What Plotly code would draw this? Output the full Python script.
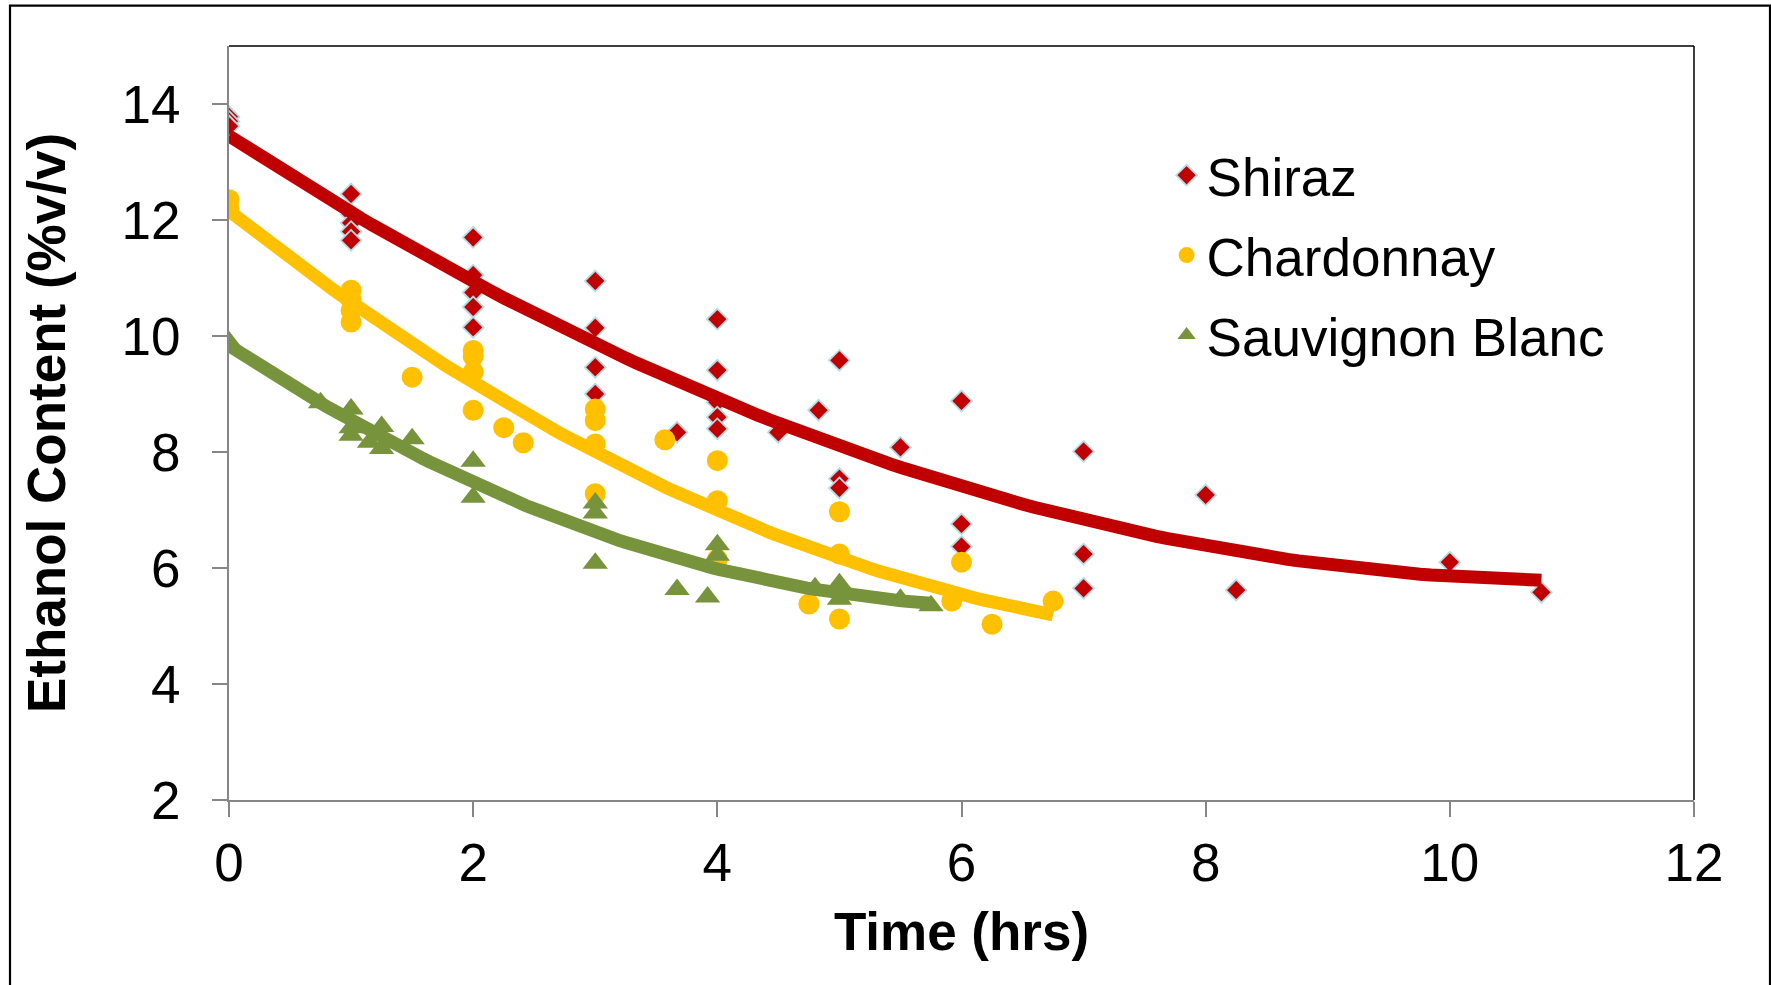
import numpy as np
import plotly.graph_objects as go

# ---- data ----
shiraz_x = [0, 0, 0, 1, 1, 1, 1, 1, 2, 2, 2, 2, 2, 3, 3, 3, 3, 3.67, 4, 4, 4, 4, 4,
            4.5, 4.83, 5, 5, 5, 5.5, 6, 6, 6, 7, 7, 7, 8, 8.25, 10, 10.75]
shiraz_y = [13.78, 13.7, 13.62, 12.45, 12.1, 11.95, 11.8, 11.65, 11.7, 11.05, 10.75, 10.5, 10.15,
            10.95, 10.14, 9.46, 9.0, 8.34, 10.29, 9.41, 8.86, 8.6, 8.4,
            8.34, 8.72, 9.58, 7.54, 7.38, 8.08, 8.88, 6.76, 6.37, 8.01, 6.24, 5.65,
            7.26, 5.62, 6.10, 5.58]

chard_x = [0, 0, 1, 1, 1, 1, 1.5, 2, 2, 2, 2, 2.25, 2.41, 3, 3, 3, 3, 3.57,
           4, 4, 4, 4.75, 5, 5, 5, 5.92, 6, 6.25, 6.75]
chard_y = [12.35, 12.2, 10.79, 10.62, 10.44, 10.24, 9.29, 9.75, 9.65, 9.38, 8.72, 8.42, 8.16,
           8.74, 8.54, 8.14, 7.28, 8.21, 7.85, 7.16, 6.15, 5.38, 6.97, 6.24, 5.12,
           5.43, 6.1, 5.03, 5.43]

sauv_x = [0, 0.75, 1, 1, 1, 1.15, 1.25, 1.25, 1.5, 2, 2, 3, 3, 3, 3.67, 3.92,
          4, 4, 4.8, 5, 5, 5.5, 5.75]
sauv_y = [9.9, 8.85, 8.74, 8.42, 8.29, 8.17, 8.44, 8.06, 8.23, 7.84, 7.22, 7.12, 6.95, 6.08,
          5.63, 5.5, 6.4, 6.22, 5.66, 5.73, 5.46, 5.46, 5.35]

series_names = ["Shiraz", "Chardonnay", "Sauvignon Blanc"]
x_ticks = [0, 2, 4, 6, 8, 10, 12]
y_ticks = [2, 4, 6, 8, 10, 12, 14]

RED = "#C00000"
YEL = "#FFC000"
GRN = "#77933C"
FONT = "Liberation Sans, Arial, sans-serif"

fig = go.Figure()

fig.add_trace(go.Scatter(
    x=shiraz_x, y=shiraz_y, mode="markers", name=series_names[0],
    legendgroup="a",
    marker=dict(symbol="diamond", size=16, color=RED,
                line=dict(color="#B4DCE4", width=1.8))))
fig.add_trace(go.Scatter(
    x=chard_x, y=chard_y, mode="markers", name=series_names[1],
    legendgroup="b",
    marker=dict(symbol="circle", size=21, color=YEL, line=dict(width=0))))
fig.add_trace(go.Scatter(
    x=sauv_x, y=sauv_y, mode="markers", name=series_names[2],
    legendgroup="c",
    marker=dict(symbol="triangle-up", size=22, color=GRN, line=dict(width=0))))

# polynomial (order 2) trendlines fitted to the data
for xs, ys, col in [(shiraz_x, shiraz_y, RED), (chard_x, chard_y, YEL), (sauv_x, sauv_y, GRN)]:
    c = np.polyfit(xs, ys, 2)
    xx = np.linspace(min(xs), max(xs), 120)
    fig.add_trace(go.Scatter(x=xx, y=np.polyval(c, xx), mode="lines",
                             line=dict(color=col, width=13), showlegend=False,
                             hoverinfo="skip"))

fig.update_layout(
    width=1771, height=985,
    margin=dict(l=229, r=77, t=46, b=185),
    paper_bgcolor="white", plot_bgcolor="white",
    font=dict(family=FONT, size=53, color="black"),
    showlegend=True,
    legend=dict(x=0.64, y=0.883, xanchor="left", yanchor="top",
                font=dict(family=FONT, size=53, color="black"),
                bgcolor="rgba(0,0,0,0)", traceorder="grouped", tracegroupgap=8,
                itemsizing="trace"),
    xaxis=dict(range=[0, 12], tickvals=x_ticks, ticktext=[str(v) for v in x_ticks],
               showgrid=False, zeroline=False, showline=True, linecolor="#868686",
               linewidth=2, ticks="outside", ticklen=15, tickwidth=1.5, tickcolor="#868686",
               tickfont=dict(family=FONT, size=53, color="black"),
               ticklabelstandoff=0, layer="below traces",
               title=dict(text="<b>Time (hrs)</b>", font=dict(family=FONT, size=53),
                          standoff=22)),
    yaxis=dict(range=[2, 15], tickvals=y_ticks, ticktext=[str(v) for v in y_ticks],
               showgrid=False, zeroline=False, showline=True, linecolor="#868686",
               linewidth=2, ticks="outside", ticklen=15, tickwidth=1.5, tickcolor="#868686",
               tickfont=dict(family=FONT, size=53, color="black"),
               ticklabelstandoff=21, layer="below traces",
               title=dict(text="<b>Ethanol Content (%v/v)</b>", font=dict(family=FONT, size=53),
                          standoff=39)),
    shapes=[
        # plot-area border (top and right)
        dict(type="line", xref="paper", yref="paper", x0=0, x1=1, y0=1, y1=1,
             line=dict(color="black", width=1.5), layer="below"),
        dict(type="line", xref="paper", yref="paper", x0=1, x1=1, y0=0, y1=1,
             line=dict(color="black", width=1.5), layer="below"),
        # chart-area border
        dict(type="rect", xref="paper", yref="paper",
             x0=(10 - 229) / 1465, x1=(1770 - 229) / 1465,
             y0=-0.4, y1=(800 - 5.7) / 754,
             line=dict(color="black", width=2.2), layer="below"),
    ],
)

fig.write_html("out.html")
